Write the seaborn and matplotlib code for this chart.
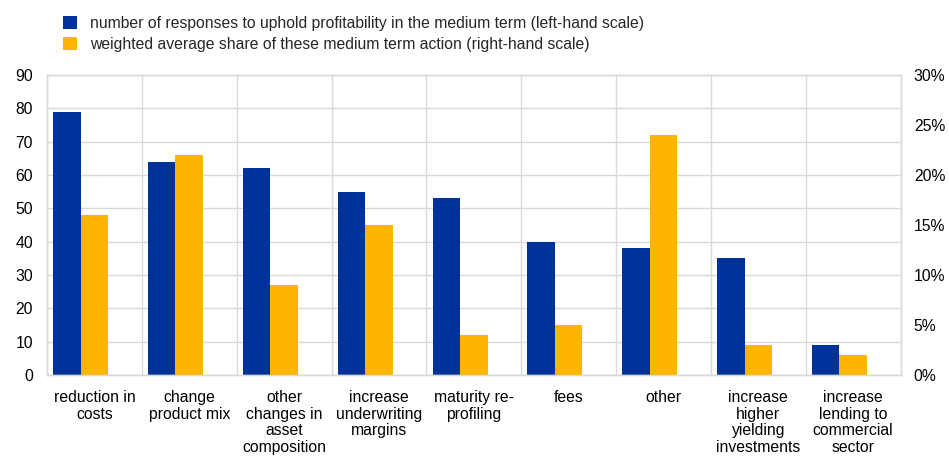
import pandas as pd
import seaborn as sns
import matplotlib.pyplot as plt
from matplotlib.patches import Patch
from matplotlib.ticker import FuncFormatter, MultipleLocator

# chart data
categories = ["reduction in\ncosts", "change\nproduct mix", "other\nchanges in\nasset\ncomposition",
              "increase\nunderwriting\nmargins", "maturity re-\nprofiling", "fees", "other",
              "increase\nhigher\nyielding\ninvestments", "increase\nlending to\ncommercial\nsector"]
responses = [79, 64, 62, 55, 53, 40, 38, 35, 9]
weighted_share = [16, 22, 9, 15, 4, 5, 24, 3, 2]

series_left = "number of responses to uphold profitability in the medium term (left-hand scale)"
series_right = "weighted average share of these medium term action (right-hand scale)"
hue_levels = [series_left, series_right, "gap"]

BLUE = "#003299"
YELLOW = "#FFB400"
GRID = "#d9d9d9"
FS = 11.3

df_left = pd.DataFrame({"category": categories, "value": responses, "series": series_left})
df_right = pd.DataFrame({"category": categories, "value": weighted_share, "series": series_right})

sns.set_theme(style="white")
plt.rcParams["font.family"] = ["Liberation Sans", "DejaVu Sans"]

fig = plt.figure(figsize=(9.49, 4.57), dpi=100)
ax = fig.add_axes([0.0495, 0.1794, 0.8995, 0.6565])
ax2 = ax.twinx()

# three dodge slots per category, the third one stays empty
palette = [BLUE, YELLOW, "white"]
sns.barplot(data=df_left, x="category", y="value", hue="series", hue_order=hue_levels,
            palette=palette, width=0.87, saturation=1, dodge=True, ax=ax, legend=False)
sns.barplot(data=df_right, x="category", y="value", hue="series", hue_order=hue_levels,
            palette=palette, width=0.87, saturation=1, dodge=True, ax=ax2, legend=False)

for patch in ax.patches + ax2.patches:
    patch.set_linewidth(0)

ax.set_ylim(0, 90)
ax2.set_ylim(0, 30)
ax.set_xlim(-0.5, len(categories) - 0.5)
ax.yaxis.set_major_locator(MultipleLocator(10))
ax2.yaxis.set_major_locator(MultipleLocator(5))
ax2.yaxis.set_major_formatter(FuncFormatter(lambda v, p: f"{v:.0f}%"))

# gridlines: horizontal at left ticks, vertical between categories
ax.set_axisbelow(True)
ax.yaxis.grid(True, color=GRID, linewidth=1)
ax.set_xticks([i + 0.5 for i in range(len(categories) - 1)], minor=True)
ax.xaxis.grid(True, which="minor", color=GRID, linewidth=1)
ax2.patch.set_visible(False)

for a in (ax, ax2):
    for spine in a.spines.values():
        spine.set_color(GRID)
        spine.set_linewidth(1)
    a.set_xlabel("")
    a.set_ylabel("")
    a.tick_params(axis="both", which="both", length=0, labelsize=FS, colors="black")

ax.tick_params(axis="y", pad=10)
ax2.tick_params(axis="y", pad=9.5)
ax.tick_params(axis="x", pad=11)
ax.set_xticks(range(len(categories)))
ax.set_xticklabels(categories, linespacing=1.13)

handles = [Patch(facecolor=BLUE, edgecolor="none"), Patch(facecolor=YELLOW, edgecolor="none")]
fig.legend(handles, [series_left, series_right], loc="upper left", bbox_to_anchor=(0.066, 0.965),
           frameon=False, fontsize=FS, handlelength=0.92, handleheight=0.92, borderpad=0,
           borderaxespad=0, handletextpad=0.8, labelspacing=0.38)

fig.savefig("out.png", dpi=100)
